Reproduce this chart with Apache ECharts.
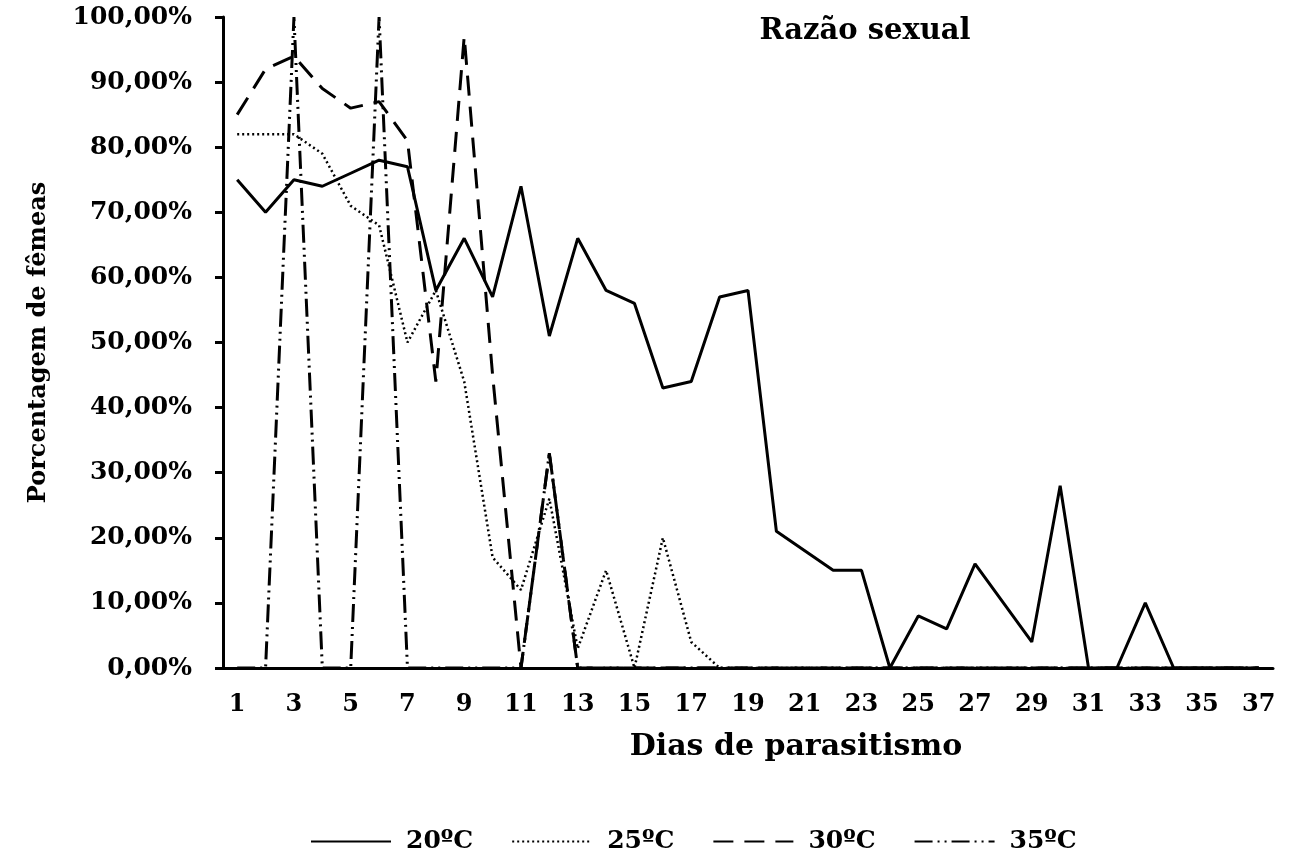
<!DOCTYPE html>
<html>
<head>
<meta charset="utf-8">
<script src="https://cdn.jsdelivr.net/npm/echarts@6/dist/echarts.min.js"></script>
<style>
html,body{margin:0;padding:0;background:#fff;}
#chart{width:1292px;height:860px;}
</style>
</head>
<body>
<div id="chart"></div>
<script>
// ---- data ----
const days = ['1','2','3','4','5','6','7','8','9','10','11','12','13','14','15','16','17','18','19','20','21','22','23','24','25','26','27','28','29','30','31','32','33','34','35','36','37'];
const seriesNames = ['20ºC','25ºC','30ºC','35ºC'];
const t20 = [75,70,75,74,76,78,77,58,66,57,74,51,66,58,56,43,44,57,58,21,18,15,15,0,8,6,16,10,4,28,0,0,10,0,0,0,0];
const t25 = [82,82,82,79,71,68,50,58,44,17,12,26,3,15,0,20,4,0,0,0,0,0,0,0,0,0,0,0,0,0,0,0,0,0,0,0,0];
const t30 = [85,92,94,89,86,87,81,44,97,45,0,33,0,0,0,0,0,0,0,0,0,0,0,0,0,0,0,0,0,0,0,0,0,0,0,0,0];
const t35 = [0,0,100,0,0,100,0,0,0,0,0,33,0,0,0,0,0,0,0,0,0,0,0,0,0,0,0,0,0,0,0,0,0,0,0,0,0];
const yTicks = {min: 0, max: 100, step: 10};
const titleText = 'Razão sexual';
const xName = 'Dias de parasitismo';
const yName = 'Porcentagem de fêmeas';

const FONT = 'DejaVu Serif';
const chart = echarts.init(document.getElementById('chart'), null, {renderer: 'canvas'});

function lineSeries(name, data, width, type) {
  return {
    name: name, type: 'line', data: data, symbol: 'none', smooth: false,
    lineStyle: {color: '#000', width: width, type: type},
    itemStyle: {color: '#000'},
    animation: false
  };
}

chart.setOption({
  backgroundColor: '#fff',
  animation: false,
  title: {
    text: titleText, left: 860, top: 12, textAlign: 'center',
    textStyle: {fontFamily: FONT, fontWeight: 'bold', fontSize: 29, color: '#000'}
  },
  legend: {
    data: seriesNames, left: 305, top: 824, itemWidth: 80, itemHeight: 24, itemGap: 38,
    itemStyle: {color: 'rgba(0,0,0,0)', borderWidth: 0, opacity: 0},
    textStyle: {fontFamily: FONT, fontWeight: 'bold', fontSize: 25, color: '#000', padding: [0,0,0,10]}
  },
  grid: {left: 223, right: 19, top: 17, bottom: 192, containLabel: false},
  xAxis: {
    type: 'category', data: days, boundaryGap: true,
    axisLine: {lineStyle: {color: '#000', width: 3}},
    axisTick: {interval: 1, length: 8, lineStyle: {color: '#000', width: 3}},
    axisLabel: {interval: 1, margin: 25, fontFamily: FONT, fontWeight: 'bold', fontSize: 24, color: '#000'},
    name: xName, nameLocation: 'middle', nameGap: 64,
    nameTextStyle: {fontFamily: FONT, fontWeight: 'bold', fontSize: 30, color: '#000', padding: [0,0,0,96]}
  },
  yAxis: {
    type: 'value', min: yTicks.min, max: yTicks.max, interval: yTicks.step,
    axisLine: {show: true, lineStyle: {color: '#000', width: 3}},
    axisTick: {show: true, length: 8, lineStyle: {color: '#000', width: 3}},
    splitLine: {show: false},
    axisLabel: {
      margin: 31, fontFamily: FONT, fontWeight: 'bold', fontSize: 25, color: '#000',
      formatter: v => v.toFixed(2).replace('.', ',') + '%'
    },
    name: yName, nameLocation: 'middle', nameGap: 172, nameRotate: 90,
    nameTextStyle: {fontFamily: FONT, fontWeight: 'bold', fontSize: 24, color: '#000'}
  },
  series: [
    lineSeries(seriesNames[3], t35, 3, [18, 5, 2, 5, 2, 5]),
    lineSeries(seriesNames[2], t30, 3, [20, 11]),
    lineSeries(seriesNames[1], t25, 2.5, [2, 3]),
    lineSeries(seriesNames[0], t20, 3, 'solid')
  ]
});
</script>
</body>
</html>
